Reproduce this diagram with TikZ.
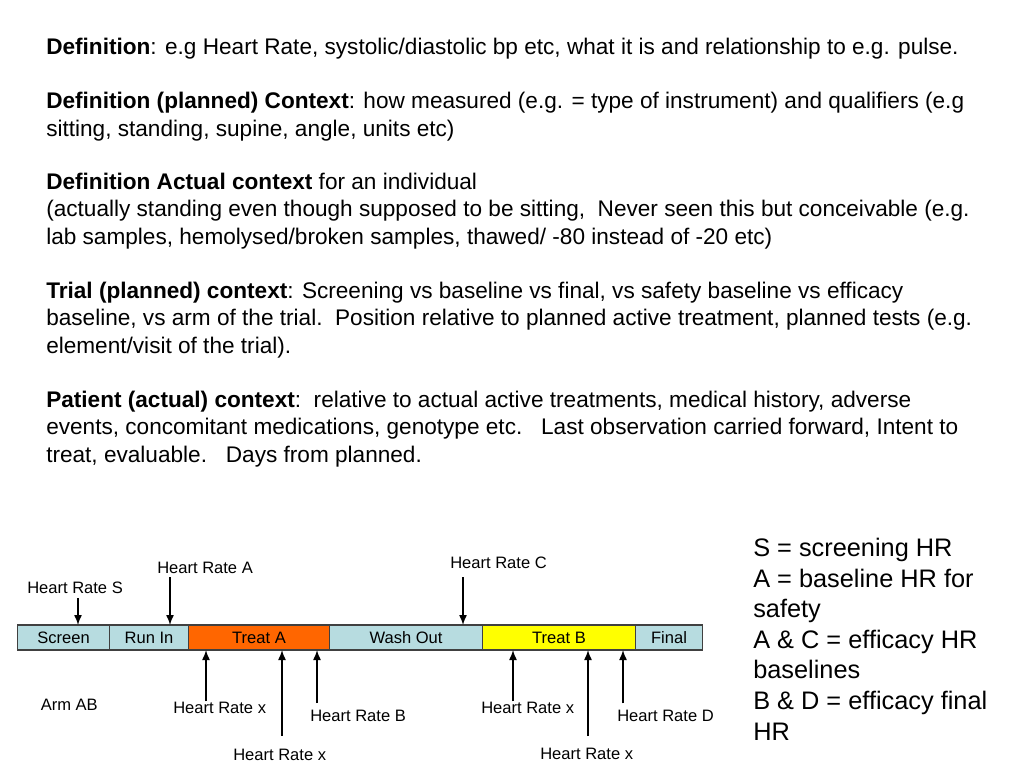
\documentclass[tikz,border=0pt]{standalone}
\usepackage{fontspec}
\setmainfont{Liberation Sans}
\usetikzlibrary{arrows.meta}
\definecolor{segblue}{HTML}{B7DCE0}
\definecolor{treata}{HTML}{FF6600}
\definecolor{treatb}{HTML}{FFFF00}
\definecolor{segline}{HTML}{404040}
\tikzset{
  seg/.style={draw=segline, line width=0.8pt, anchor=west, inner sep=0pt,
    minimum height=18.75pt, font=\fontsize{12.4}{14}\selectfont},
  lbl/.style={inner sep=0pt, anchor=base west, font=\fontsize{12.4}{14}\selectfont},
  para/.style={inner sep=0pt, anchor=base west, align=left,
    font=\fontsize{16.95}{20.4}\selectfont},
  legend/.style={inner sep=0pt, anchor=base west, align=left,
    font=\fontsize{19}{22.95}\selectfont},
  hr/.style={line width=1.1pt, -{Latex[length=7.5pt,width=6pt]}}
}
\begin{document}
\begin{tikzpicture}[x=0.75pt,y=-0.75pt]
\useasboundingbox (0,0) rectangle (1024,768);
% top text (anchor = baseline of the last line)
\node[para] (p1) at (46,54) {\textbf{Definition}: e.g Heart Rate, systolic/diastolic bp etc, what it is and relationship to e.g. pulse.};
\node[para] (p2) at (46,136) {\textbf{Definition (planned) Context}: how measured (e.g. = type of instrument) and qualifiers (e.g\\sitting, standing, supine, angle, units etc)};
\node[para] (p3) at (46,244) {\textbf{Definition Actual context} for an individual\\(actually standing even though supposed to be sitting,\ \ Never seen this but conceivable (e.g.\\lab samples, hemolysed/broken samples, thawed/ -80 instead of -20 etc)};
\node[para] (p4) at (46,353) {\textbf{Trial (planned) context}: Screening vs baseline vs final, vs safety baseline vs efficacy\\baseline, vs arm of the trial.\ \ Position relative to planned active treatment, planned tests (e.g.\\element/visit of the trial).};
\node[para] (p5) at (46,462) {\textbf{Patient (actual) context}:\ \ relative to actual active treatments, medical history, adverse\\events, concomitant medications, genotype etc.\ \ \ Last observation carried forward, Intent to\\treat, evaluable.\ \ \ Days from planned.};
% legend
\node[legend] (leg) at (753,740) {S = screening HR\\A = baseline HR for\\safety\\A \& C = efficacy HR\\baselines\\B \& D = efficacy final\\HR};
% bar
\node[seg, fill=segblue, minimum width=69pt] (screen) at (17,637.5) {Screen};
\node[seg, fill=segblue, minimum width=59.25pt] (runin) at (109,637.5) {Run In};
\node[seg, fill=treata, minimum width=105.75pt] (treatA) at (188,637.5) {Treat A};
\node[seg, fill=segblue, minimum width=114.75pt] (wash) at (329,637.5) {Wash Out};
\node[seg, fill=treatb, minimum width=114.75pt] (treatB) at (482,637.5) {Treat B};
\node[seg, fill=segblue, minimum width=50.25pt] (final) at (635,637.5) {Final};
% labels above
\node[lbl] (hS) at (27,593) {Heart Rate S};
\node[lbl] (hA) at (157,573) {Heart Rate A};
\node[lbl] (hC) at (450,568) {Heart Rate C};
% labels below
\node[lbl] (arm) at (40.5,710) {Arm AB};
\node[lbl] (hx1) at (173,713) {Heart Rate x};
\node[lbl] (hx2) at (233,760) {Heart Rate x};
\node[lbl] (hB) at (310,721.5) {Heart Rate B};
\node[lbl] (hx3) at (481,713) {Heart Rate x};
\node[lbl] (hx4) at (540,759) {Heart Rate x};
\node[lbl] (hD) at (617,721) {Heart Rate D};
% arrow points on the bar
\coordinate (pS) at (78,625);
\coordinate (pA) at (170,625);
\coordinate (pC) at (463,625);
\coordinate (q1) at (206,650);
\coordinate (q2) at (282,650);
\coordinate (q3) at (317,650);
\coordinate (q4) at (513,650);
\coordinate (q5) at (588,650);
\coordinate (q6) at (623,650);
% arrows
\draw[hr, shorten <=3.5pt] (hS.south -| pS) -- (pS);
\draw[hr, shorten <=3pt] (hA.south -| pA) -- (pA);
\draw[hr, shorten <=6.5pt] (hC.south -| pC) -- (pC);
\draw[hr] (hx1.north -| q1) -- (q1);
\draw[hr, shorten <=9.5pt] (hx2.north -| q2) -- (q2);
\draw[hr, shorten <=5pt] (hB.north -| q3) -- (q3);
\draw[hr] (hx3.north -| q4) -- (q4);
\draw[hr, shorten <=8.5pt] (hx4.north -| q5) -- (q5);
\draw[hr, shorten <=4.5pt] (hD.north -| q6) -- (q6);
\end{tikzpicture}
\end{document}
